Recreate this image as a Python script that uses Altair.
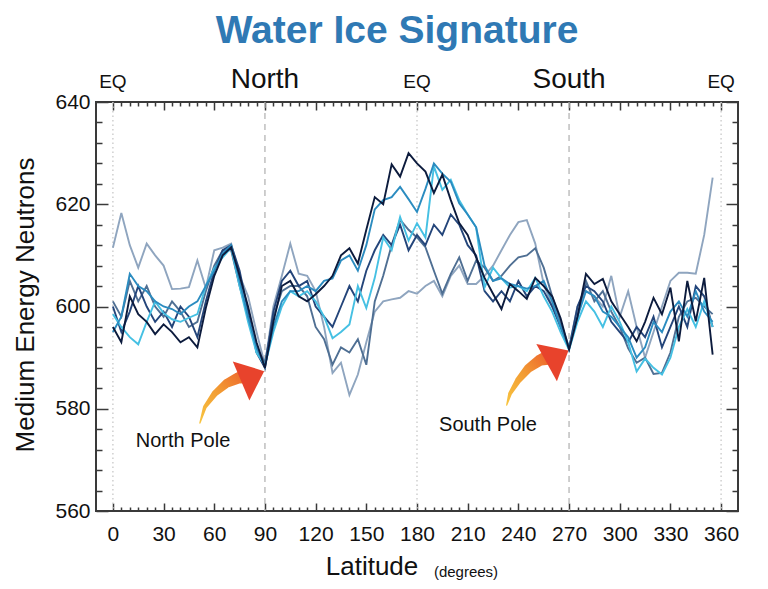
import altair as alt
import pandas as pd

# ---------------- data ----------------
latitude = list(range(0, 360, 5))

orbit_a = [596, 593, 602, 598.5, 597, 594.6, 596.5, 595, 593, 594, 592, 599.7,
           606, 610, 611.6, 606, 600, 593, 588, 597, 604, 605, 602, 601,
           602.4, 604, 606, 610, 611.4, 608.4, 615, 621.4, 620, 627.8, 625.4, 630,
           628, 626.4, 622.2, 625.8, 620.8, 616.3, 614, 609.6, 605.6, 602.5, 599.5, 604.4,
           603, 601.5, 605.6, 604, 602, 597.7, 591.6, 598, 606.4, 604.4, 605.4, 601,
           598.5, 596, 593.2, 597, 601.7, 598.5, 603.7, 593.2, 605, 597.1, 605.6, 590.6]
orbit_b = [600, 595, 599, 604, 600, 597, 599, 596, 600, 598, 594, 601,
           607, 611, 612, 607, 599, 591, 588, 599, 605, 607, 604, 605,
           600, 598, 596, 600, 604, 601, 607, 611, 614, 612, 616, 611,
           614, 612, 616, 614, 618, 616, 612, 610, 603, 601, 603, 601,
           605, 602, 604, 603, 600, 596, 591.7, 600, 604, 603, 601, 597,
           595, 593, 596, 594, 598, 592, 596, 600, 596, 604, 602, 596]
orbit_c = [611.5, 618.3, 612, 607.6, 612.3, 610, 608, 603.4, 603.5, 603.8, 609, 603.6,
           611, 611.5, 612.3, 606, 602, 595, 588.6, 600, 606, 612.3, 606.4, 606,
           603, 596, 587, 589, 582.7, 586.7, 593, 599, 601, 601.4, 601.7, 603,
           602.5, 604, 605, 602, 606, 608, 604.4, 604.4, 606, 608, 611, 614,
           616.5, 616.9, 612.3, 604.4, 600, 596, 592, 600, 603, 602, 600, 606,
           598, 603, 596, 590, 595, 600, 605, 606.6, 606.6, 606.4, 614, 625.2]
orbit_d = [601, 598, 605, 601, 604, 600, 598, 601, 599, 596, 597, 603,
           608, 611, 611, 604, 598, 592, 589, 598, 603, 604, 604, 602,
           596, 593.6, 588.6, 592, 591, 593.6, 588.6, 601, 606, 612, 617, 615,
           613.5, 611.6, 607, 602.5, 606.4, 609.6, 605, 609, 607.6, 605, 606, 608,
           609.6, 610, 611.4, 607.6, 602, 597, 592, 598, 605, 601, 603, 599,
           596, 591.8, 589, 590, 586.8, 587, 591, 598, 601, 601.7, 600, 598.5]
orbit_e = [595, 598, 606.4, 604, 603, 601, 600, 599.5, 598.5, 600, 601, 604,
           607, 610.4, 612, 605, 598, 592, 588.3, 596, 601, 603, 603, 604,
           603, 605, 605.5, 609, 610, 607, 612, 619, 620.8, 621.4, 623.4, 621,
           618.5, 623, 628, 626, 624.4, 620.2, 618, 615.5, 608, 605, 605.5, 604.4,
           604, 603.5, 604, 605, 601, 596, 591.8, 598, 603, 602, 599, 598,
           596, 594, 590, 592, 597, 595, 599, 601, 598, 603, 599, 597]
orbit_f = [598.5, 596, 594, 592.6, 597, 601, 598.7, 597.5, 597, 597.8, 598.5, 604,
           607.5, 609.6, 611.5, 604, 597, 591, 588.5, 595, 600, 603, 602, 603,
           601, 598, 593.8, 595, 596.5, 604, 599.7, 605.6, 613.5, 611, 617.5, 612.9,
           616.3, 613.5, 627.4, 622.8, 624.8, 620.8, 618, 615.5, 603.7, 607.6, 605.5, 603.7,
           604, 603, 605.6, 602, 599, 595, 591.5, 597, 601, 599, 596, 600,
           597, 593, 587.3, 589.8, 588, 586.7, 590, 596, 599.5, 596, 601, 596]

series_names = ["Orbit C", "Orbit D", "Orbit B", "Orbit F", "Orbit E", "Orbit A"]
series_values = [orbit_c, orbit_d, orbit_b, orbit_f, orbit_e, orbit_a]
series_colors = ["#8fa5bf", "#4f6f93", "#24457a", "#45c0e3", "#2b8cc0", "#0c1b3d"]

pole_lat = [90, 270]
eq_lat = [0, 180, 360]
top_label_text = ["EQ", "North", "EQ", "South", "EQ"]
top_label_lat = [0, 90, 180, 270, 360]
top_label_kind = ["eq", "hemi", "eq", "hemi", "eq"]

x_ticks_major = list(range(0, 361, 30))
x_ticks_all = list(range(0, 361, 5))
y_ticks_major = [560, 580, 600, 620, 640]
y_ticks_all = list(range(560, 641, 4))

pole_text = ["North Pole", "South Pole"]
pole_text_lat = [41.5, 222.0]
pole_text_val = [573.7, 576.8]

arrow_n_lat = [51.5, 54.4, 60.4, 67.5, 74.0, 78.0]
arrow_n_val = [577.2, 580.3, 583.0, 585.0, 586.0, 586.3]
arrow_s_lat = [233.1, 235.1, 240.0, 245.9, 252.8, 256.5]
arrow_s_val = [580.7, 583.0, 585.6, 587.9, 589.5, 589.9]
head_lat = [82.7, 263.2]
head_val = [586.4, 590.2]
head_angle = [337, 331]

# ---------------- layout ----------------
W, H = 642, 409
FONT = "Liberation Sans"
INK = "#3a3a3a"

rows = []
for k, (name, vals) in enumerate(zip(series_names, series_values)):
    for x, v in zip(latitude, vals):
        rows.append({"lat": x, "val": v, "series": name, "k": k})
df_lines = pd.DataFrame(rows)

x_scale = alt.Scale(domain=[-10, 370], nice=False, zero=False)
y_scale = alt.Scale(domain=[560, 640], nice=False, zero=False)

ax_x_labels = alt.Axis(orient="bottom", values=x_ticks_major, ticks=False, domain=False,
                       grid=False, labelFontSize=21, labelPadding=12, labelColor="#111",
                       labelFont=FONT, title=None)
ax_y_labels = alt.Axis(orient="left", values=y_ticks_major, ticks=False, domain=False,
                       grid=False, labelFontSize=21, labelPadding=6, labelColor="#111",
                       labelFont=FONT, title=None)

tick_x = {"condition": {"test": "datum.value % 30 === 0", "value": 8}, "value": 4}
tick_y = {"condition": {"test": "datum.value % 20 === 0", "value": 12}, "value": 6}


def tick_axis(orient, values, size, offset):
    return alt.Axis(orient=orient, offset=offset, values=values, labels=False, domain=False,
                    grid=False, ticks=True, tickSize=size, tickColor=INK, tickWidth=1.5,
                    title=None)


lines = alt.Chart(df_lines).mark_line(strokeWidth=1.9).encode(
    x=alt.X("lat:Q", scale=x_scale, axis=ax_x_labels),
    y=alt.Y("val:Q", scale=y_scale, axis=ax_y_labels),
    color=alt.Color("series:N", scale=alt.Scale(domain=series_names, range=series_colors),
                    legend=None),
    order=alt.Order("lat:Q"),
)

df_poles = pd.DataFrame({"lat": pole_lat})
df_eq = pd.DataFrame({"lat": eq_lat})
pole_rules = alt.Chart(df_poles).mark_rule(color="#b5b5b5", strokeDash=[6, 5], strokeWidth=1.3).encode(
    x=alt.X("lat:Q", scale=x_scale, axis=None))
eq_rules = alt.Chart(df_eq).mark_rule(color="#cfcfcf", strokeDash=[1.5, 3], strokeWidth=1.5).encode(
    x=alt.X("lat:Q", scale=x_scale, axis=None))

grad = alt.LinearGradient(gradient="linear",
                          stops=[alt.GradientStop(color="#f8c640", offset=0),
                                 alt.GradientStop(color="#f29a33", offset=0.5),
                                 alt.GradientStop(color="#ec5a2c", offset=1)],
                          x1=0, y1=1, x2=1, y2=0)

df_an = pd.DataFrame({"lat": arrow_n_lat, "val": arrow_n_val})
df_as = pd.DataFrame({"lat": arrow_s_lat, "val": arrow_s_val})


def shaft(df, ax_x, ax_y):
    return alt.Chart(df).transform_window(i="row_number()").transform_calculate(
        w="datum.i * 2.5 - 1.2").mark_trail(color=grad).encode(
        x=alt.X("lat:Q", scale=x_scale, axis=ax_x),
        y=alt.Y("val:Q", scale=y_scale, axis=ax_y),
        size=alt.Size("w:Q", scale=None, legend=None),
        order=alt.Order("i:Q"),
    )


shaft_n = shaft(df_an, tick_axis("top", x_ticks_all, tick_x, -H),
                tick_axis("right", y_ticks_all, tick_y, -W))
shaft_s = shaft(df_as, tick_axis("bottom", x_ticks_all, tick_x, -H),
                tick_axis("left", y_ticks_all, tick_y, -W))

df_heads = pd.DataFrame({"lat": head_lat, "val": head_val, "ang": head_angle})
heads = alt.Chart(df_heads).mark_point(shape="M-0.59,-1L0.59,0L-0.59,1Z", filled=True,
                                       size=1800, color="#e8432c", opacity=1).encode(
    x=alt.X("lat:Q", scale=x_scale, axis=None),
    y=alt.Y("val:Q", scale=y_scale, axis=None),
    angle=alt.Angle("ang:Q", scale=None),
)

df_pt = pd.DataFrame({"lat": pole_text_lat, "val": pole_text_val, "t": pole_text})
pole_labels = alt.Chart(df_pt).mark_text(font=FONT, fontSize=20, color="#111").encode(
    x=alt.X("lat:Q", scale=x_scale, axis=None),
    y=alt.Y("val:Q", scale=y_scale, axis=None),
    text="t:N",
)

df_top = pd.DataFrame({"lat": top_label_lat, "t": top_label_text, "kind": top_label_kind})
top_eq = alt.Chart(df_top).transform_filter("datum.kind == 'eq'").mark_text(
    font=FONT, fontSize=19, color="#111", baseline="middle").encode(
    x=alt.X("lat:Q", scale=x_scale, axis=None), y=alt.value(-20), text="t:N")
top_hemi = alt.Chart(df_top).transform_filter("datum.kind == 'hemi'").mark_text(
    font=FONT, fontSize=28, color="#111", baseline="middle").encode(
    x=alt.X("lat:Q", scale=x_scale, axis=None), y=alt.value(-22), text="t:N")

title_df = pd.DataFrame({"t": ["Water Ice Signature"]})
title = alt.Chart(title_df).mark_text(font=FONT, fontSize=39, fontWeight="bold",
                                      color="#2f79b4", baseline="middle").encode(
    x=alt.value(301), y=alt.value(-71), text="t:N")

ytitle_df = pd.DataFrame({"t": ["Medium Energy Neutrons"]})
ytitle = alt.Chart(ytitle_df).mark_text(font=FONT, fontSize=26, color="#111", angle=270,
                                        baseline="middle").encode(
    x=alt.value(-70), y=alt.value(203), text="t:N")

xtitle_df = pd.DataFrame({"t": ["Latitude"]})
xtitle = alt.Chart(xtitle_df).mark_text(font=FONT, fontSize=26, color="#111",
                                        baseline="middle").encode(
    x=alt.value(276), y=alt.value(465), text="t:N")
xunit_df = pd.DataFrame({"t": ["(degrees)"]})
xunit = alt.Chart(xunit_df).mark_text(font=FONT, fontSize=15, color="#111",
                                      baseline="middle").encode(
    x=alt.value(370), y=alt.value(470), text="t:N")

chart = alt.layer(
    eq_rules, pole_rules, lines, shaft_n, shaft_s, heads, pole_labels,
    top_eq, top_hemi, title, ytitle, xtitle, xunit,
).resolve_axis(x="independent", y="independent").properties(
    width=W, height=H,
    padding={"left": 96, "top": 102, "right": 30, "bottom": 78},
    autosize=alt.AutoSizeParams(type="none"),
    background="white",
).configure_view(stroke=INK, strokeWidth=2)

chart.save("out.html", embed_options={"renderer": "svg", "actions": False})
